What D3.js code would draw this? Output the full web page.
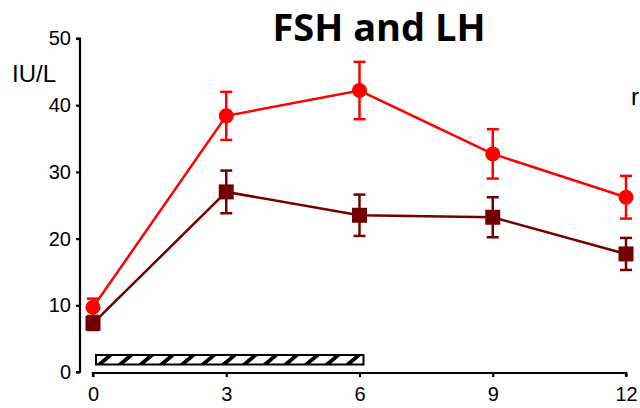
<!DOCTYPE html>
<html>
<head>
<meta charset="utf-8">
<script src="https://cdn.jsdelivr.net/npm/d3@7"></script>
<style>
  body { margin: 0; background: #fff; }
  svg { display: block; font-family: 'Liberation Sans', Arial, sans-serif; }
</style>
</head>
<body>
<div class="chart"></div>
<script>
const weeks = [0, 3, 6, 9, 12]
const fsh = [9.7, 38.4, 42.2, 32.7, 26.2]
const fshErr = [1.3, 3.6, 4.3, 3.7, 3.2]
const lh = [7.3, 27.0, 23.5, 23.2, 17.7]
const lhErr = [1.0, 3.2, 3.1, 3.0, 2.4]
const yTicks = [0, 10, 20, 30, 40, 50]
const treatment = [0, 6]

const width = 640
const height = 408

const xScale = d3.scaleLinear().domain([0, 12]).range([93, 626])
const yScale = d3.scaleLinear().domain([0, 50]).range([372, 38.5])

const svg = d3.select('.chart')
  .append('svg')
  .attr('width', width)
  .attr('height', height)

// hatch pattern for the treatment bar
const defs = svg.append('defs')
const pat = defs.append('pattern')
  .attr('id', 'hatch')
  .attr('patternUnits', 'userSpaceOnUse')
  .attr('width', 20.7)
  .attr('height', 40)
  .attr('x', 96)
  .attr('patternTransform', 'skewX(-50)')
pat.append('rect').attr('width', 20.7).attr('height', 40).attr('fill', '#fff')
pat.append('rect').attr('width', 6).attr('height', 40).attr('fill', '#000')

svg.append('text')
  .attr('x', 379)
  .attr('y', 41)
  .attr('text-anchor', 'middle')
  .style('font-family', "'Open Sans', 'Noto Sans', sans-serif")
  .style('font-weight', 'bold')
  .style('font-size', '38px')
  .text('FSH and LH')

svg.append('text')
  .attr('x', 12)
  .attr('y', 82)
  .style('font-size', '24px')
  .text('IU/L')

svg.append('text')
  .attr('x', 631)
  .attr('y', 105)
  .style('font-size', '24px')
  .text('r')

// y axis
const yAxis = d3.axisLeft(yScale).tickValues(yTicks).tickSize(4).tickPadding(5)
const gy = svg.append('g')
  .attr('transform', 'translate(80,0)')
  .call(yAxis)
gy.select('.domain').attr('d', 'M-4,' + yScale(50) + 'H0V' + yScale(0) + 'H-4')
  .attr('stroke-width', 2.2)
gy.selectAll('.tick line').attr('stroke-width', 2.2)
gy.selectAll('.tick text').style('font-size', '20px').attr('fill', '#000')

// x axis
const xAxis = d3.axisBottom(xScale).tickValues(weeks).tickSize(4).tickPadding(10)
const gx = svg.append('g')
  .attr('transform', 'translate(0,' + (yScale(0) + 1) + ')')
  .call(xAxis)
gx.select('.domain').attr('d', 'M' + xScale(0) + ',4V0H' + xScale(12) + 'V4')
  .attr('stroke-width', 2.2)
gx.selectAll('.tick line').attr('stroke-width', 2.2)
gx.selectAll('.tick text').style('font-size', '20px').attr('fill', '#000')

// treatment bar
svg.append('rect')
  .attr('x', xScale(treatment[0]) + 3)
  .attr('y', 355)
  .attr('width', xScale(treatment[1]) - xScale(treatment[0]) + 1)
  .attr('height', 9.5)
  .attr('fill', 'url(#hatch)')
  .attr('stroke', '#000')
  .attr('stroke-width', 2)

function drawSeries(vals, errs, color, shape) {
  const g = svg.append('g')
  const line = d3.line().x((d, i) => xScale(weeks[i])).y(d => yScale(d))
  g.append('path')
    .datum(vals)
    .attr('d', line)
    .attr('fill', 'none')
    .attr('stroke', color)
    .attr('stroke-width', 2.5)

  const eb = g.selectAll('.eb').data(vals).enter().append('g')
  eb.append('line')
    .attr('x1', (d, i) => xScale(weeks[i]))
    .attr('x2', (d, i) => xScale(weeks[i]))
    .attr('y1', (d, i) => yScale(d + errs[i]))
    .attr('y2', (d, i) => yScale(d - errs[i]))
    .attr('stroke', color).attr('stroke-width', 2.5)
  ;[1, -1].forEach(s => {
    eb.append('line')
      .attr('x1', (d, i) => xScale(weeks[i]) - 6)
      .attr('x2', (d, i) => xScale(weeks[i]) + 6)
      .attr('y1', (d, i) => yScale(d + s * errs[i]))
      .attr('y2', (d, i) => yScale(d + s * errs[i]))
      .attr('stroke', color).attr('stroke-width', 2.5)
  })

  if (shape === 'circle') {
    g.selectAll('circle').data(vals).enter().append('circle')
      .attr('cx', (d, i) => xScale(weeks[i]))
      .attr('cy', d => yScale(d))
      .attr('r', 7.5)
      .attr('fill', color)
  } else {
    g.selectAll('rect').data(vals).enter().append('rect')
      .attr('x', (d, i) => xScale(weeks[i]) - 7.5)
      .attr('y', d => yScale(d) - 7.5)
      .attr('width', 15)
      .attr('height', 15)
      .attr('fill', color)
  }
}

drawSeries(fsh, fshErr, '#ff0000', 'circle')
drawSeries(lh, lhErr, '#730000', 'square')
</script>
</body>
</html>
